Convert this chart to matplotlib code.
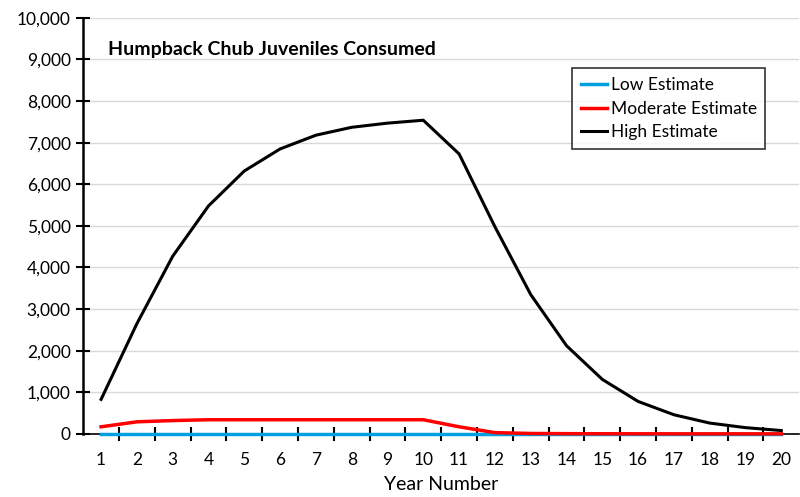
import matplotlib
matplotlib.use("Agg")
import matplotlib.pyplot as plt
from matplotlib.ticker import FuncFormatter, FixedLocator

years = list(range(1, 21))
low = [5] * 20
moderate = [170, 290, 320, 340, 340, 340, 340, 340, 340, 340, 170, 30, 10, 5, 3, 2, 1, 1, 1, 1]
high = [830, 2650, 4270, 5480, 6320, 6850, 7180, 7370, 7470, 7540, 6730, 4980, 3350, 2120, 1310, 780, 460, 260, 150, 80]

plt.rcParams['font.family'] = ['Lato', 'DejaVu Sans']

fig = plt.figure(figsize=(8, 4.97), dpi=100)
ax = fig.add_axes([0.104, 0.127, 0.895, 0.837])

ax.plot(years, low, color='#00A0E0', lw=2.5, label='Low Estimate', zorder=3, clip_on=False)
ax.plot(years, moderate, color='#FF0000', lw=2.5, label='Moderate Estimate', zorder=4, clip_on=False)
ax.plot(years, high, color='#000000', lw=2.2, label='High Estimate', zorder=5, clip_on=False)

ax.set_xlim(0.5, 20.5)
ax.set_ylim(0, 10000)
ax.set_yticks(range(0, 10001, 1000))
ax.yaxis.set_major_formatter(FuncFormatter(lambda v, p: f"{int(v):,}"))
ax.set_xticks(years)
ax.xaxis.set_minor_locator(FixedLocator([y + 0.5 for y in years[:-1]]))
ax.tick_params(axis='x', which='major', length=0, pad=13, labelsize=12.5)
ax.tick_params(axis='x', which='minor', length=10, width=1.5, direction='inout', color='black')
ax.tick_params(axis='y', which='major', length=10, width=1.5, direction='inout', labelsize=12.5, pad=4)
ax.xaxis.set_zorder(6)

ax.grid(axis='y', color='#D9D9D9', lw=1)
ax.set_axisbelow(True)
for s in ['top', 'right']:
    ax.spines[s].set_visible(False)
ax.spines['left'].set_linewidth(1.8)
ax.spines['bottom'].set_linewidth(1.2)
ax.spines['bottom'].set_zorder(2)

ax.set_xlabel('Year Number', fontsize=14, labelpad=6)
ax.text(0.035, 0.945, 'Humpback Chub Juveniles Consumed', transform=ax.transAxes,
        fontsize=14, fontweight='bold', va='top', ha='left')

leg = ax.legend(loc='upper right', bbox_to_anchor=(0.965, 0.9), fontsize=12.5,
                frameon=True, fancybox=False, edgecolor='black', handlelength=1.5,
                handletextpad=0.2, borderpad=0.5, labelspacing=0.45)
leg.get_frame().set_linewidth(1.2)

fig.savefig('out.png', dpi=100)
